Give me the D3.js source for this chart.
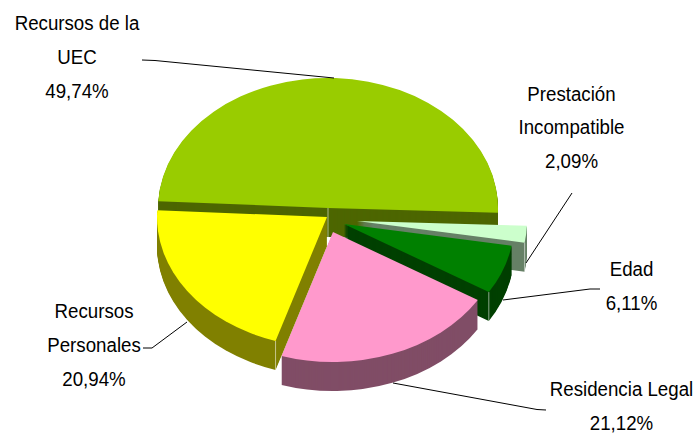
<!DOCTYPE html>
<html>
<head>
<meta charset="utf-8">
<script src="https://d3js.org/d3.v7.min.js"></script>
<style>
  html, body { margin: 0; padding: 0; background: #fff; }
  svg { display: block; }
  text { font-family: "Liberation Sans", sans-serif; fill: #000; }
</style>
</head>
<body>
<div id="chart"></div>
<script>
// data, in the order the slices run clockwise
var categories = ["Recursos de la UEC", "Prestación Incompatible", "Edad", "Residencia Legal", "Recursos Personales"];
var shares = [49.74, 2.09, 6.11, 21.12, 20.94];
var labelLines = [
  ["Recursos de la", "UEC"],
  ["Prestación", "Incompatible"],
  ["Edad"],
  ["Residencia Legal"],
  ["Recursos", "Personales"]
];

// colours
var topColors = ["#99CC00", "#CCFFCC", "#008000", "#FF99CC", "#FFFF00"];
var wallColors = ["#4D6600", "#668066", "#004000", "#804D66", "#808000"];

// where each slice ends up once exploded
var sliceCenters = [[328, 208], [357, 221], [344, 224], [333, 232], [327, 217]];

// label anchor (x centre, first baseline) and leader line
var labelPos = [[77, 30], [571.5, 100.5], [631.5, 276], [621.5, 396], [94, 318]];
var leaders = [
  [[142, 60], [155, 60.5], [334, 78]],
  [[572, 193], [526, 263]],
  [[600, 289], [590, 289], [503, 300]],
  [[393, 383], [537, 409.5], [546, 410]],
  [[143, 348], [152, 348], [187, 322]]
];

var svgWidth = 695;
var svgHeight = 433;
var rx = 170;
var ry = 130;
var depth = 29;
var lineHeight = 34;
var textSquash = 0.935;
var firstAngle = -87 * Math.PI / 180;

var svg = d3.select("#chart")
  .append("svg")
  .attr("width", svgWidth)
  .attr("height", svgHeight);

var pie = d3.pie()
  .sort(null)
  .startAngle(firstAngle)
  .endAngle(firstAngle + 2 * Math.PI);

var arcs = pie(shares);

var arc = d3.arc()
  .innerRadius(0)
  .outerRadius(rx);

var tilt = ry / rx;
var percent = d3.formatLocale({ decimal: ",", thousands: ".", grouping: [3], currency: ["", "€"] }).format(".2f");

// painting order, back slices first
shares.forEach(function(d, i) {
  var g = svg.append("g").attr("class", "slice");
  var c = sliceCenters[i];

  // side walls: the same slice stacked downwards
  d3.range(depth, 0, -1).forEach(function(dy) {
    g.append("path")
      .attr("d", arc(arcs[i]))
      .attr("transform", `translate(${c[0]}, ${c[1] + dy}) scale(1, ${tilt})`)
      .attr("fill", wallColors[i]);
  });

  // pale edge where the two walls meet (apex for the big slice)
  if (i !== 3) {
    var a = arcs[i].startAngle;
    var ex = i === 0 ? c[0] : c[0] + rx * Math.sin(a);
    var ey = i === 0 ? c[1] : c[1] - ry * Math.cos(a);
    if (i === 1 || i === 2) {
      a = arcs[i].endAngle;
      ex = c[0] + rx * Math.sin(a);
      ey = c[1] - ry * Math.cos(a);
    }
    g.append("line")
      .attr("x1", ex).attr("y1", ey)
      .attr("x2", ex).attr("y2", ey + depth)
      .attr("stroke", "#fff")
      .attr("stroke-opacity", 0.55)
      .attr("stroke-width", 1);
  }

  g.append("path")
    .attr("d", arc(arcs[i]))
    .attr("transform", `translate(${c[0]}, ${c[1]}) scale(1, ${tilt})`)
    .attr("fill", topColors[i]);
});

// leader lines
var line = d3.line();
leaders.forEach(function(pts) {
  svg.append("path")
    .attr("d", line(pts))
    .attr("fill", "none")
    .attr("stroke", "#000")
    .attr("stroke-width", 1);
});

// labels
categories.forEach(function(name, i) {
  var rows = labelLines[i].concat([percent(shares[i]) + "%"]);
  svg.append("g")
    .attr("class", "label")
    .attr("transform", `translate(${labelPos[i][0]}, ${labelPos[i][1]}) scale(${textSquash}, 1)`)
    .selectAll("text")
    .data(rows)
    .enter()
    .append("text")
    .attr("text-anchor", "middle")
    .attr("font-size", "20px")
    .attr("y", function(d, j) { return j * lineHeight; })
    .text(function(d) { return d; });
});
</script>
</body>
</html>
